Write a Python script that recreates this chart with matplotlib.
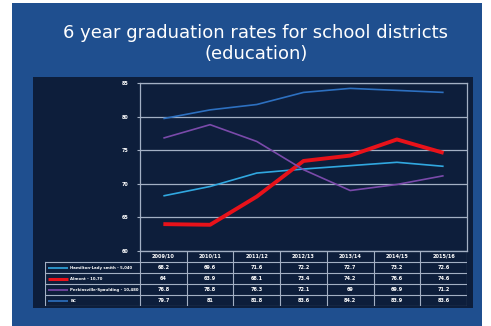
import matplotlib
matplotlib.use("Agg")
import matplotlib.pyplot as plt
from matplotlib.patches import Rectangle

W, H = 491, 326

years = ["2009/10", "2010/11", "2011/12", "2012/13", "2013/14", "2014/15", "2015/16"]
series_names = ["Hamilton-Lady smith - 5,040", "Almont - 10,70",
                "Perkinsville-Spaulding - 10,480", "BC"]
hamilton = [68.2, 69.6, 71.6, 72.2, 72.7, 73.2, 72.6]
almont = [64, 63.9, 68.1, 73.4, 74.2, 76.6, 74.6]
perkinsville = [76.8, 78.8, 76.3, 72.1, 69, 69.9, 71.2]
bc = [79.7, 81, 81.8, 83.6, 84.2, 83.9, 83.6]
y_ticks = [60, 65, 70, 75, 80, 85]

series = [hamilton, almont, perkinsville, bc]
colors = ["#31a8e0", "#e8121a", "#7a4aaa", "#2d70c0"]
widths = [1.2, 2.8, 1.2, 1.2]

panel_blue = "#1f4f8f"
dark = "#0d1e3b"
grid_c = "#a3b0c4"


def fx(px):
    return px / W


def fy(py):
    return 1 - py / H


fig = plt.figure(figsize=(W / 100, H / 100), dpi=100, facecolor="white")

# Slide panel and inner dark chart area
bg = fig.add_axes([0, 0, 1, 1])
bg.set_xlim(0, W)
bg.set_ylim(H, 0)
bg.axis("off")
bg.add_patch(Rectangle((12, 3), 470, 323, facecolor=panel_blue, edgecolor="none"))
bg.add_patch(Rectangle((33, 77), 440, 231, facecolor=dark, edgecolor="none"))
bg.text(256, 33, "6 year graduation rates for school districts", color="white",
        fontsize=13, ha="center", va="center", family="DejaVu Sans")
bg.text(256, 54, "(education)", color="white",
        fontsize=13, ha="center", va="center", family="DejaVu Sans")

# Line chart
x0, x1, ytop, ybot = 140, 467, 83, 251
ax = fig.add_axes([fx(x0), fy(ybot), fx(x1 - x0), (ybot - ytop) / H])
ax.set_facecolor(dark)
xs = list(range(len(years)))
ax.set_xlim(-0.5, len(years) - 0.5)
ax.set_ylim(60, 85)
ax.set_yticks(y_ticks)
ax.set_yticklabels([str(t) for t in y_ticks], color="white", fontsize=3.5,
                   fontweight="bold")
ax.tick_params(axis="y", length=2, color=grid_c, pad=6)
ax.set_xticks([])
for t in y_ticks:
    ax.axhline(t, color=grid_c, lw=0.9, zorder=1)
for s in ax.spines.values():
    s.set_color(grid_c)
    s.set_linewidth(0.9)
for vals, c, lw in zip(series, colors, widths):
    ax.plot(xs, vals, color=c, lw=lw, solid_capstyle="butt", zorder=3)

# Data table beneath the chart, columns aligned to the categories
tx0, ty1 = 45, 306
col_w = (x1 - x0) / len(years)
label_w = (x0 - tx0) / col_w
tax = fig.add_axes([fx(tx0), fy(ty1), fx(x1 - tx0), (ty1 - ybot) / H])
tax.set_xlim(-0.5 - label_w, len(years) - 0.5)
n_rows = len(series) + 1
tax.set_ylim(n_rows, 0)
tax.axis("off")
tax.patch.set_alpha(0)
line_kw = dict(color=grid_c, lw=0.8)
for r in range(1, n_rows + 1):
    tax.plot([-0.5 - label_w, len(years) - 0.5], [r, r], **line_kw)
tax.plot([-0.5, len(years) - 0.5], [0, 0], **line_kw)
tax.plot([-0.5 - label_w] * 2, [1, n_rows], **line_kw)
for i in range(len(years) + 1):
    tax.plot([i - 0.5] * 2, [0, n_rows], **line_kw)
for i, yr in enumerate(years):
    tax.text(i, 0.5, yr, color="white", fontsize=3.6, ha="center", va="center",
             fontweight="bold")
for r, (name, vals, c) in enumerate(zip(series_names, series, colors), start=1):
    lx = -0.5 - label_w
    tax.plot([lx + 0.06, lx + 0.5], [r + 0.5, r + 0.5], color=c,
             lw=2.2 if c == "#e8121a" else 1.2, solid_capstyle="butt")
    tax.text(lx + 0.54, r + 0.5, name, color="white", fontsize=2.8,
             ha="left", va="center", fontweight="bold")
    for i, v in enumerate(vals):
        tax.text(i, r + 0.5, f"{v:g}", color="white", fontsize=3.6,
                 ha="center", va="center", fontweight="bold")

fig.savefig("out.png", dpi=100, facecolor="white")
